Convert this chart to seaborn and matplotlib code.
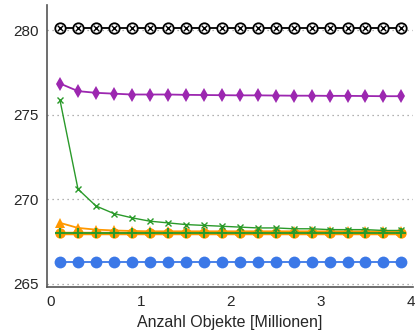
import numpy as np
import pandas as pd
import matplotlib
matplotlib.use("Agg")
import matplotlib.pyplot as plt
import seaborn as sns

# %% data
objekte = [0.1, 0.3, 0.5, 0.7, 0.9, 1.1, 1.3, 1.5, 1.7, 1.9,
           2.1, 2.3, 2.5, 2.7, 2.9, 3.1, 3.3, 3.5, 3.7, 3.9]

black_vals = [280.15] * 20
purple_vals = [276.85, 276.4, 276.3, 276.25, 276.2, 276.2, 276.2, 276.18, 276.17, 276.16,
               276.15, 276.15, 276.14, 276.13, 276.13, 276.12, 276.12, 276.11, 276.1, 276.1]
green_x_vals = [275.85, 270.6, 269.6, 269.15, 268.9, 268.7, 268.6, 268.5, 268.45, 268.4,
                268.35, 268.3, 268.3, 268.25, 268.25, 268.2, 268.2, 268.2, 268.15, 268.15]
orange_tri_vals = [268.6, 268.3, 268.2, 268.15, 268.12, 268.1, 268.1, 268.1, 268.1, 268.1,
                   268.1, 268.1, 268.1, 268.1, 268.1, 268.1, 268.1, 268.1, 268.1, 268.1]
orange_circ_vals = [268.02] * 20
green_plus_vals = [268.0] * 20
blue_vals = [266.3] * 20

xticks = [0, 1, 2, 3, 4]
yticks = [265, 270, 275, 280]

# %% plot
sns.set_style("white")
plt.rcParams["font.family"] = ["Liberation Sans", "DejaVu Sans"]

fig = plt.figure(figsize=(4.16, 3.33), dpi=100)
ax = fig.add_axes([0.113, 0.138, 0.88, 0.847])

for t in yticks:
    ax.axhline(t, color="#999999", lw=0.9, ls=(0, (1, 3)), zorder=0)

def serie(vals, color, lw, marker, ms, mew=0.0, mec=None, mfc=None):
    sns.lineplot(x=objekte, y=vals, ax=ax, color=color, lw=lw,
                 marker=marker, markersize=ms, markeredgewidth=mew,
                 markeredgecolor=mec or color, markerfacecolor=mfc or color)

serie(blue_vals, "#3b78e7", 1.3, "o", 8.5)
serie(orange_circ_vals, "#ff9800", 2.5, "o", 7.5)
serie(orange_tri_vals, "#ff9800", 1.3, "^", 6.5)
serie(green_plus_vals, "#2a9a2a", 1.3, "+", 7.5, mew=1.5)
serie(green_x_vals, "#2a9a2a", 1.0, "x", 4.5, mew=1.0)
serie(purple_vals, "#9c27b0", 1.3, "d", 7.5)
serie(black_vals, "black", 1.3, "o", 7.5, mew=1.3, mec="black", mfc="white")
sns.scatterplot(x=objekte, y=black_vals, ax=ax, color="black", marker="x",
                s=16, linewidth=1.0, zorder=5)

ax.set_xlim(-0.045, 4.03)
ax.set_ylim(264.8, 281.5)
ax.set_xticks(xticks)
ax.set_yticks(yticks)
ax.tick_params(axis="both", labelsize=11, length=4, width=0.8, color="#555555", pad=2)
ax.set_xlabel("Anzahl Objekte [Millionen]", fontsize=11.5, labelpad=4)
ax.set_ylabel("")
for s in ["top", "right"]:
    ax.spines[s].set_visible(False)
for s in ["left", "bottom"]:
    ax.spines[s].set_color("#555555")
    ax.spines[s].set_linewidth(1.2)

fig.savefig("out.png", dpi=100)
